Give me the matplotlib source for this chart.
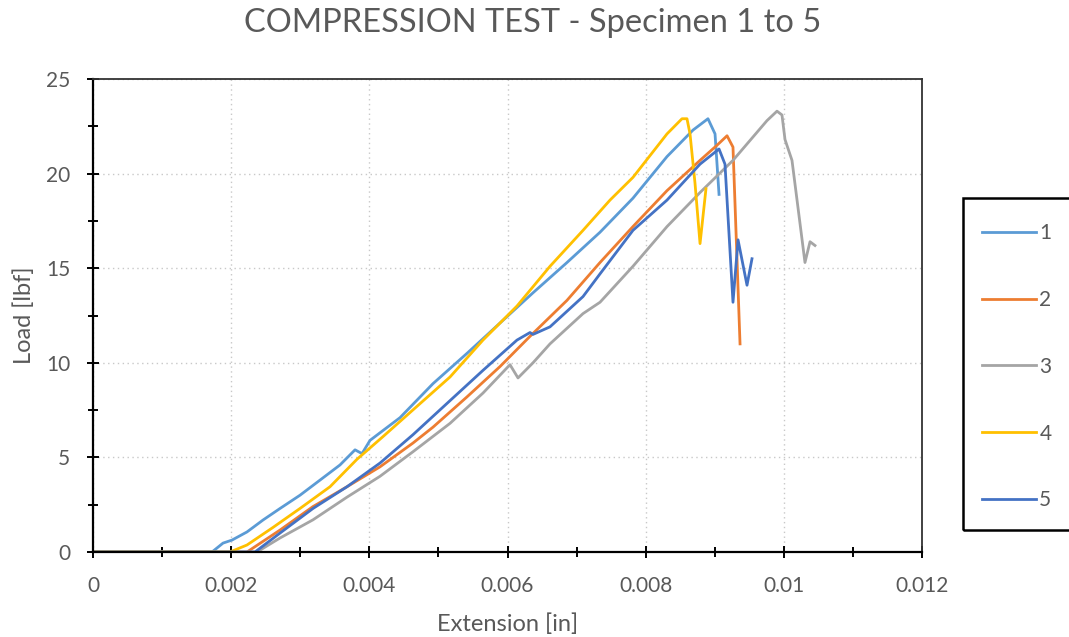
import matplotlib
matplotlib.use("Agg")
import matplotlib.pyplot as plt
from matplotlib.ticker import MultipleLocator
from matplotlib.patches import Rectangle

# ---- data ----
s1_x = [0, 0.001723, 0.001882, 0.002012, 0.002229, 0.002461, 0.002707, 0.002996, 0.003286,
        0.003575, 0.003793, 0.003894, 0.004010, 0.004154, 0.004444, 0.004922, 0.005414,
        0.005891, 0.006369, 0.006861, 0.007339, 0.007816, 0.008309, 0.008685, 0.008902,
        0.009004, 0.009062]
s1_y = [0, 0, 0.47, 0.63, 1.06, 1.69, 2.3, 3.0, 3.8, 4.6, 5.4, 5.2, 5.9, 6.3, 7.1, 8.9, 10.5,
        12.1, 13.7, 15.3, 16.9, 18.7, 20.9, 22.3, 22.9, 22.1, 18.9]

s2_x = [0, 0.002229, 0.002707, 0.003184, 0.003677, 0.004154, 0.004632, 0.004922, 0.005414,
        0.005891, 0.006326, 0.006861, 0.007339, 0.007816, 0.008309, 0.008787, 0.009033,
        0.009178, 0.009264, 0.009366]
s2_y = [0, 0, 1.16, 2.4, 3.45, 4.5, 5.76, 6.6, 8.2, 9.8, 11.4, 13.3, 15.3, 17.2, 19.1, 20.7,
        21.5, 22.0, 21.4, 11.0]

s3_x = [0, 0.002374, 0.002707, 0.003184, 0.003677, 0.004154, 0.004632, 0.005168, 0.005645,
        0.006036, 0.006152, 0.006369, 0.006615, 0.007093, 0.007339, 0.007816, 0.008309,
        0.008787, 0.009264, 0.009756, 0.009901, 0.009973, 0.010017, 0.010118, 0.010306,
        0.010379, 0.010451]
s3_y = [0, 0, 0.74, 1.7, 2.9, 4.0, 5.3, 6.8, 8.4, 9.9, 9.2, 10.0, 11.0, 12.6, 13.2, 15.1, 17.2,
        19.0, 20.7, 22.8, 23.3, 23.1, 21.8, 20.7, 15.3, 16.4, 16.2]

s4_x = [0, 0.001983, 0.002229, 0.002606, 0.002996, 0.003431, 0.003821, 0.004198, 0.004690,
        0.005168, 0.005645, 0.006137, 0.006615, 0.007093, 0.007484, 0.007816, 0.008309,
        0.008526, 0.008598, 0.008642, 0.008714, 0.008787, 0.008873]
s4_y = [0, 0, 0.37, 1.3, 2.3, 3.45, 4.9, 6.1, 7.7, 9.25, 11.2, 13.0, 15.1, 17.0, 18.6, 19.8,
        22.1, 22.9, 22.9, 22.1, 19.5, 16.3, 19.2]

s5_x = [0, 0.002345, 0.002707, 0.003184, 0.003677, 0.004154, 0.004632, 0.005168, 0.005645,
        0.006137, 0.006326, 0.006369, 0.006615, 0.007093, 0.007339, 0.007816, 0.008309,
        0.008787, 0.009062, 0.009148, 0.009264, 0.009337, 0.009467, 0.009539]
s5_y = [0, 0, 1.0, 2.3, 3.45, 4.7, 6.2, 8.0, 9.6, 11.2, 11.6, 11.5, 11.9, 13.5, 14.7, 17.0,
        18.6, 20.5, 21.3, 20.5, 13.2, 16.5, 14.1, 15.5]

labels = ["1", "2", "3", "4", "5"]
colors = ["#5B9BD5", "#ED7D31", "#A5A5A5", "#FFC000", "#4472C4"]

xticks = [0, 0.002, 0.004, 0.006, 0.008, 0.01, 0.012]
xticklabels = ["0", "0.002", "0.004", "0.006", "0.008", "0.01", "0.012"]
yticks = [0, 5, 10, 15, 20, 25]

title = "COMPRESSION TEST - Specimen 1 to 5"
xlabel = "Extension [in]"
ylabel = "Load [lbf]"

# ---- figure ----
plt.rcParams["font.family"] = ["Lato", "DejaVu Sans"]
TXT = "#595959"

W, H = 1069, 637
fig = plt.figure(figsize=(W / 100, H / 100), dpi=100)
ax = fig.add_axes([93 / W, 1 - 552 / H, (922 - 93) / W, (552 - 79) / H])

series = [(s1_x, s1_y), (s2_x, s2_y), (s3_x, s3_y), (s4_x, s4_y), (s5_x, s5_y)]
lines = []
for (xs, ys), lab, c in zip(series, labels, colors):
    ln, = ax.plot(xs, ys, color=c, lw=2.0, label=lab, solid_joinstyle="round")
    lines.append(ln)

ax.set_xlim(0, 0.012)
ax.set_ylim(0, 25)
ax.set_xticks(xticks)
ax.set_xticklabels(xticklabels)
ax.set_yticks(yticks)
ax.xaxis.set_minor_locator(MultipleLocator(0.001))
ax.yaxis.set_minor_locator(MultipleLocator(2.5))

ax.grid(True, which="major", color="#C8C8C8", linestyle=(0, (1, 2.5)), lw=1.0)
ax.set_axisbelow(True)

for side in ["left", "bottom"]:
    ax.spines[side].set_color("black")
    ax.spines[side].set_linewidth(1.6)
for side in ["top", "right"]:
    ax.spines[side].set_color("#333333")
    ax.spines[side].set_linewidth(1.3)

ax.tick_params(which="both", direction="inout", color="black", width=1.4,
               labelcolor=TXT, labelsize=15)
ax.tick_params(which="major", length=9)
ax.tick_params(which="minor", length=7)
ax.tick_params(axis="x", which="both", pad=13)
ax.tick_params(axis="y", which="both", pad=12)
ax.tick_params(top=False, right=False)

ax.set_xlabel(xlabel, fontsize=17, color=TXT, labelpad=12)
ax.set_ylabel(ylabel, fontsize=17, color=TXT, labelpad=8)
fig.text(533 / W, 1 - 23 / H, title, fontsize=23.5, color=TXT,
         ha="center", va="center")

# legend: frame drawn as a rectangle that runs past the right edge of the figure
fig.patches.append(Rectangle((963 / W, 1 - 530 / H), 160 / W, (530 - 198) / H,
                             transform=fig.transFigure, fill=False, ec="black", lw=1.8))
leg = fig.legend(handles=lines, labels=labels, loc="upper left",
                 bbox_to_anchor=(982 / W, 1 - 223 / H), fontsize=15,
                 frameon=False, handlelength=2.6, handletextpad=0.15,
                 labelspacing=2.25, borderpad=0, borderaxespad=0)
for t in leg.get_texts():
    t.set_color(TXT)

fig.savefig("out.png", dpi=100)
